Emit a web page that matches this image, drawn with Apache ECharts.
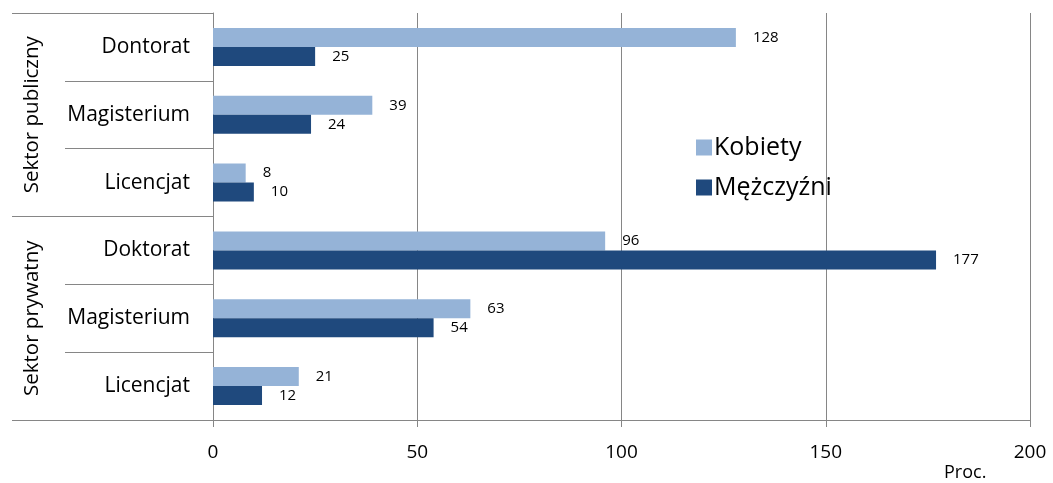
<!DOCTYPE html>
<html>
<head>
<meta charset="utf-8">
<script src="https://cdn.jsdelivr.net/npm/echarts@6/dist/echarts.min.js"></script>
<style>
  html, body { margin: 0; padding: 0; background: #fff; }
  #chart { width: 1053px; height: 483px; }
</style>
</head>
<body>
<div id="chart"></div>
<script>
const categories = ['Dontorat', 'Magisterium', 'Licencjat', 'Doktorat', 'Magisterium', 'Licencjat']
const groups = ['Sektor publiczny', 'Sektor prywatny']
const kobiety = [128, 39, 8, 96, 63, 21]
const mezczyzni = [25, 24, 10, 177, 54, 12]
const xTicks = { min: 0, max: 200, interval: 50 }

const FONT = '"Open Sans", "Noto Sans", sans-serif'
const GRAY = '#868686'

const chart = echarts.init(document.getElementById('chart'))

const valueLabel = {
  show: true,
  position: 'right',
  distance: 17,
  color: '#000',
  fontSize: 15,
  fontFamily: FONT
}

const option = {
  animation: false,
  textStyle: { fontFamily: FONT },
  title: {
    text: 'Proc.',
    left: 944,
    top: 464,
    padding: 0,
    textStyle: { fontSize: 18, fontWeight: 'normal', color: '#000', fontFamily: FONT }
  },
  legend: {
    orient: 'vertical',
    left: 691,
    top: 130,
    itemWidth: 16,
    itemHeight: 16,
    itemGap: 15,
    icon: 'rect',
    textStyle: { fontSize: 25, color: '#000', fontFamily: FONT, padding: [0, 0, 0, -3] },
    data: ['Kobiety', 'Mężczyźni']
  },
  grid: { left: 213, right: 23, top: 13, bottom: 63 },
  xAxis: {
    type: 'value',
    min: xTicks.min,
    max: xTicks.max,
    interval: xTicks.interval,
    axisLine: { show: true, lineStyle: { color: GRAY } },
    axisTick: { show: true, length: 7, lineStyle: { color: GRAY } },
    axisLabel: { color: '#000', fontSize: 19, margin: 23, fontFamily: FONT },
    splitLine: { show: true, lineStyle: { color: GRAY } }
  },
  yAxis: [
    {
      type: 'category',
      inverse: true,
      data: categories,
      axisLine: { show: true, lineStyle: { color: GRAY } },
      axisTick: { show: true, interval: 0, length: 148, lineStyle: { color: GRAY } },
      axisLabel: { interval: 0, color: '#000', fontSize: 21, margin: 23, fontFamily: FONT }
    },
    {
      type: 'category',
      position: 'left',
      inverse: true,
      data: groups,
      axisLine: { show: false },
      axisTick: { show: true, interval: 0, length: 201, lineStyle: { color: GRAY } },
      axisLabel: { interval: 0, hideOverlap: false, color: '#000', fontSize: 20.5, rotate: 90, margin: 170, fontFamily: FONT }
    }
  ],
  series: [
    {
      name: 'Kobiety',
      type: 'bar',
      yAxisIndex: 0,
      data: kobiety,
      barWidth: 19,
      barGap: '0%',
      itemStyle: { color: '#95B3D7' },
      label: valueLabel
    },
    {
      name: 'Mężczyźni',
      type: 'bar',
      yAxisIndex: 0,
      data: mezczyzni,
      barWidth: 19,
      barGap: '0%',
      itemStyle: { color: '#1F497D' },
      label: valueLabel
    }
  ]
}

chart.setOption(option)
</script>
</body>
</html>
